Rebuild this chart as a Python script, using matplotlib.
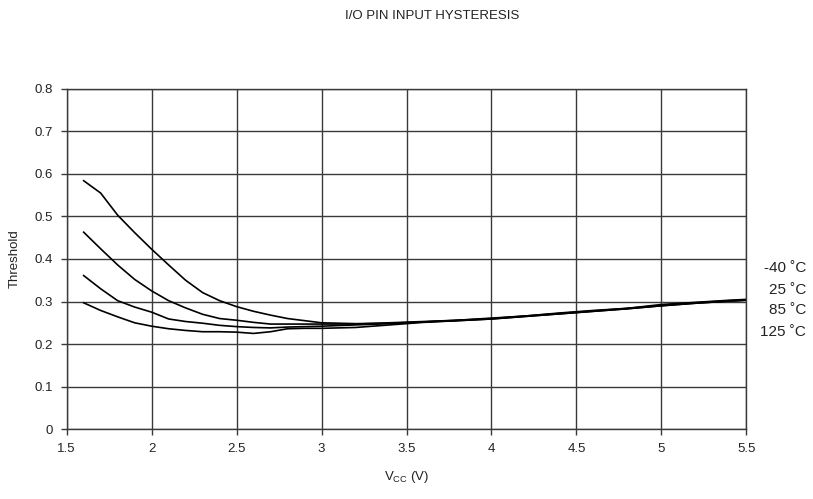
import matplotlib
matplotlib.use("Agg")
import matplotlib.pyplot as plt

plt.rcParams['font.family'] = ['Liberation Sans', 'DejaVu Sans']

# Vcc sample points (V) and threshold readings per temperature
vcc = [1.6, 1.7, 1.8, 1.9, 2.0, 2.1, 2.2, 2.3, 2.4, 2.5, 2.6, 2.7, 2.8, 2.9,
       3.0, 3.2, 3.4, 3.6, 3.8, 4.0, 4.2, 4.4, 4.6, 4.8, 5.0, 5.2, 5.4, 5.5]

thr_m40 = [0.584, 0.555, 0.503, 0.462, 0.423, 0.386, 0.350, 0.321, 0.302, 0.288,
           0.277, 0.268, 0.260, 0.255, 0.250, 0.248, 0.249, 0.252, 0.256, 0.260,
           0.266, 0.273, 0.279, 0.284, 0.293, 0.298, 0.303, 0.305]
thr_25 = [0.463, 0.424, 0.386, 0.352, 0.325, 0.302, 0.285, 0.270, 0.260, 0.256,
          0.251, 0.247, 0.247, 0.247, 0.247, 0.247, 0.250, 0.253, 0.256, 0.261,
          0.266, 0.272, 0.278, 0.284, 0.291, 0.297, 0.302, 0.304]
thr_85 = [0.361, 0.330, 0.302, 0.287, 0.275, 0.259, 0.253, 0.249, 0.244, 0.241,
          0.239, 0.238, 0.240, 0.241, 0.242, 0.245, 0.248, 0.252, 0.255, 0.259,
          0.265, 0.271, 0.277, 0.283, 0.290, 0.296, 0.301, 0.303]
thr_125 = [0.297, 0.279, 0.264, 0.250, 0.242, 0.236, 0.232, 0.229, 0.229, 0.228,
           0.225, 0.229, 0.236, 0.237, 0.237, 0.239, 0.245, 0.251, 0.255, 0.259,
           0.265, 0.271, 0.277, 0.283, 0.290, 0.296, 0.301, 0.303]

series = [("-40 ˚C", thr_m40), ("25 ˚C", thr_25), ("85 ˚C", thr_85), ("125 ˚C", thr_125)]
label_y = [0.378, 0.328, 0.279, 0.229]

fig = plt.figure(figsize=(8.13, 4.99), dpi=100)
ax = fig.add_axes([0.082, 0.140, 0.836, 0.682])

for name, vals in series:
    ax.plot(vcc, vals, color="black", lw=1.2)

ax.set_xlim(1.5, 5.5)
ax.set_ylim(0, 0.8)
ax.set_xticks([1.5, 2, 2.5, 3, 3.5, 4, 4.5, 5, 5.5])
ax.set_xticklabels(["1.5", "2", "2.5", "3", "3.5", "4", "4.5", "5", "5.5"])
ax.set_yticks([i / 10 for i in range(9)])
ax.set_yticklabels(["0"] + [f"{i / 10:.1f}" for i in range(1, 9)])
ax.grid(True, color="#3a3a3a", lw=1.0)
ax.set_axisbelow(True)
for s in ax.spines.values():
    s.set_color("#3a3a3a")
    s.set_linewidth(1.0)
ax.tick_params(direction="out", length=4, width=1, color="#3a3a3a",
               labelsize=9.5, pad=6, labelcolor="#222222")

# temperature labels to the right of the plot area
for (name, _), y in zip(series, label_y):
    ax.annotate(name, xy=(5.5, y), xycoords="data", xytext=(43, 0),
                textcoords="offset points", ha="right", va="center",
                fontsize=11, color="#222222", annotation_clip=False)

ax.set_xlabel("V$_{\\mathregular{CC}}$ (V)", fontsize=9.5, labelpad=10, color="#222222")
ax.set_ylabel("Threshold", fontsize=9.5, labelpad=10, color="#222222")
fig.text(0.531, 0.968, "I/O PIN INPUT HYSTERESIS", ha="center", va="center",
         fontsize=9.5, color="#222222")

fig.savefig("out.png", dpi=100)
